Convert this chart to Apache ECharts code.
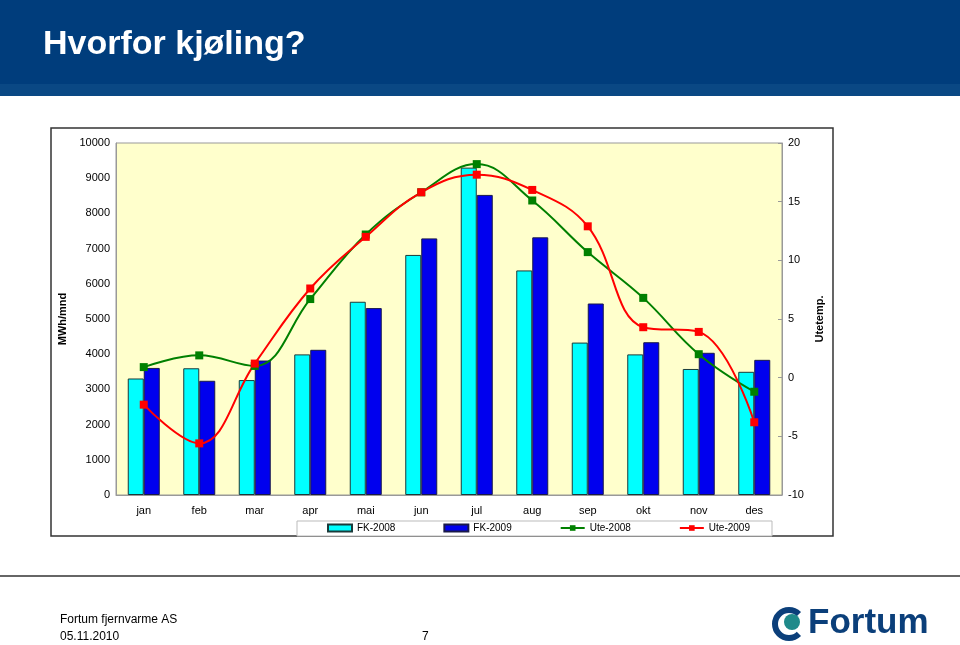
<!DOCTYPE html>
<html lang="no">
<head>
	<meta charset="UTF-8">
	<title>Hvorfor kjøling?</title>
	<script src="https://cdn.jsdelivr.net/npm/echarts@6/dist/echarts.min.js"></script>
	<style>
		html, body { margin: 0; padding: 0; background: #fff; }
	</style>
</head>
<body>
	<div id="main" style="width:960px;height:645px;"></div>
	<script type="text/javascript">
		// data
		var months = ['jan', 'feb', 'mar', 'apr', 'mai', 'jun', 'jul', 'aug', 'sep', 'okt', 'nov', 'des'];
		var fk2008 = [3310, 3600, 3265, 3995, 5490, 6820, 9300, 6380, 4330, 3995, 3580, 3500];
		var fk2009 = [3610, 3245, 3820, 4125, 5310, 7290, 8525, 7320, 5440, 4340, 4040, 3840];
		var ute2008 = [0.9, 1.9, 1.0, 6.7, 12.2, 15.8, 18.2, 15.1, 10.7, 6.8, 2.0, -1.2];
		var ute2009 = [-2.3, -5.6, 1.2, 7.6, 12.0, 15.8, 17.3, 16.0, 12.9, 4.3, 3.9, -3.8];

		var font = 'Liberation Sans, Arial, sans-serif';
		var myChart = echarts.init(document.getElementById('main'));

		myChart.setOption({
			animation: false,
			textStyle: { fontFamily: font },
			graphic: [
				// header band
				{ type: 'rect', shape: { x: 0, y: 0, width: 960, height: 84 }, style: { fill: '#003d7c' } },
				{ type: 'rect', shape: { x: 0, y: 84, width: 960, height: 12 }, style: { fill: '#0a4884' } },
				{ type: 'text', left: 43, top: 28, style: { text: 'Hvorfor kjøling?', fill: '#fff', font: 'bold 34px ' + font } },
				// chart frame + legend box
				{ type: 'rect', shape: { x: 51, y: 128, width: 782, height: 408 }, style: { fill: 'none', stroke: '#333', lineWidth: 1.5 }, z: -1 },
				{ type: 'rect', shape: { x: 297, y: 521, width: 475, height: 15 }, style: { fill: '#fff', stroke: '#bbb', lineWidth: 1 }, z: -1 },
				// footer
				{ type: 'rect', shape: { x: 0, y: 575, width: 960, height: 2 }, style: { fill: '#666' } },
				{ type: 'text', left: 60, top: 614, style: { text: 'Fortum fjernvarme AS', fill: '#000', font: '12px ' + font } },
				{ type: 'text', left: 60, top: 631, style: { text: '05.11.2010', fill: '#000', font: '12px ' + font } },
				{ type: 'text', left: 422, top: 631, style: { text: '7', fill: '#000', font: '12px ' + font } },
				// logo
				{ type: 'arc', shape: { cx: 789, cy: 624, r: 14, startAngle: Math.PI * 0.25, endAngle: Math.PI * 1.75 }, style: { stroke: '#0b3f7a', lineWidth: 6, fill: 'none' } },
				{ type: 'circle', shape: { cx: 792, cy: 622, r: 8 }, style: { fill: '#1f8a8a' } },
				{ type: 'text', left: 808, top: 606, style: { text: 'Fortum', fill: '#0b3f7a', font: 'bold 35px ' + font } }
			],
			legend: {
				left: 327,
				top: 523,
				itemWidth: 24,
				itemHeight: 7,
				itemGap: 48,
				padding: 0,
				textStyle: { fontSize: 10, color: '#000', fontFamily: font },
				data: [
					{ name: 'FK-2008', icon: 'rect' },
					{ name: 'FK-2009', icon: 'rect' },
					{ name: 'Ute-2008' },
					{ name: 'Ute-2009' }
				]
			},
			grid: {
				left: 116,
				right: 178,
				top: 143,
				height: 352,
				show: true,
				backgroundColor: '#ffffcc',
				borderColor: '#999',
				borderWidth: 1
			},
			xAxis: {
				type: 'category',
				data: months,
				axisLine: { lineStyle: { color: '#999' } },
				axisTick: { inside: true, length: 4, lineStyle: { color: '#999' } },
				axisLabel: { color: '#000', fontSize: 11, margin: 10 }
			},
			yAxis: [
				{
					type: 'value',
					min: 0,
					max: 10000,
					interval: 1000,
					name: 'MWh/mnd',
					nameLocation: 'middle',
					nameRotate: 90,
					nameGap: 43,
					nameTextStyle: { fontWeight: 'bold', fontSize: 11, color: '#000' },
					axisLine: { show: true, lineStyle: { color: '#999' } },
					axisTick: { show: false },
					splitLine: { show: false },
					axisLabel: { color: '#000', fontSize: 11, margin: 6, formatter: function (v) { return String(v); } }
				},
				{
					type: 'value',
					min: -10,
					max: 20,
					interval: 5,
					position: 'right',
					name: 'Utetemp.',
					nameLocation: 'middle',
					nameRotate: 90,
					nameGap: 25,
					nameTextStyle: { fontWeight: 'bold', fontSize: 11, color: '#000' },
					axisLine: { show: true, lineStyle: { color: '#999' } },
					axisTick: { show: true, inside: true, length: 4, lineStyle: { color: '#999' } },
					splitLine: { show: false },
					axisLabel: { color: '#000', fontSize: 11, margin: 6 }
				}
			],
			series: [
				{
					name: 'FK-2008',
					type: 'bar',
					data: fk2008,
					barWidth: 16,
					barGap: '0%',
					itemStyle: { color: '#00ffff', borderColor: '#1a3a3a', borderWidth: 1 }
				},
				{
					name: 'FK-2009',
					type: 'bar',
					data: fk2009,
					barWidth: 16,
					itemStyle: { color: '#0000ee', borderColor: '#1a1a4a', borderWidth: 1 }
				},
				{
					name: 'Ute-2008',
					type: 'line',
					yAxisIndex: 1,
					data: ute2008,
					smooth: 0.4,
					symbol: 'rect',
					symbolSize: 8,
					itemStyle: { color: '#008000' },
					lineStyle: { color: '#008000', width: 2 }
				},
				{
					name: 'Ute-2009',
					type: 'line',
					yAxisIndex: 1,
					data: ute2009,
					smooth: 0.4,
					symbol: 'rect',
					symbolSize: 8,
					itemStyle: { color: '#ff0000' },
					lineStyle: { color: '#ff0000', width: 2 }
				}
			]
		});
	</script>
</body>
</html>
